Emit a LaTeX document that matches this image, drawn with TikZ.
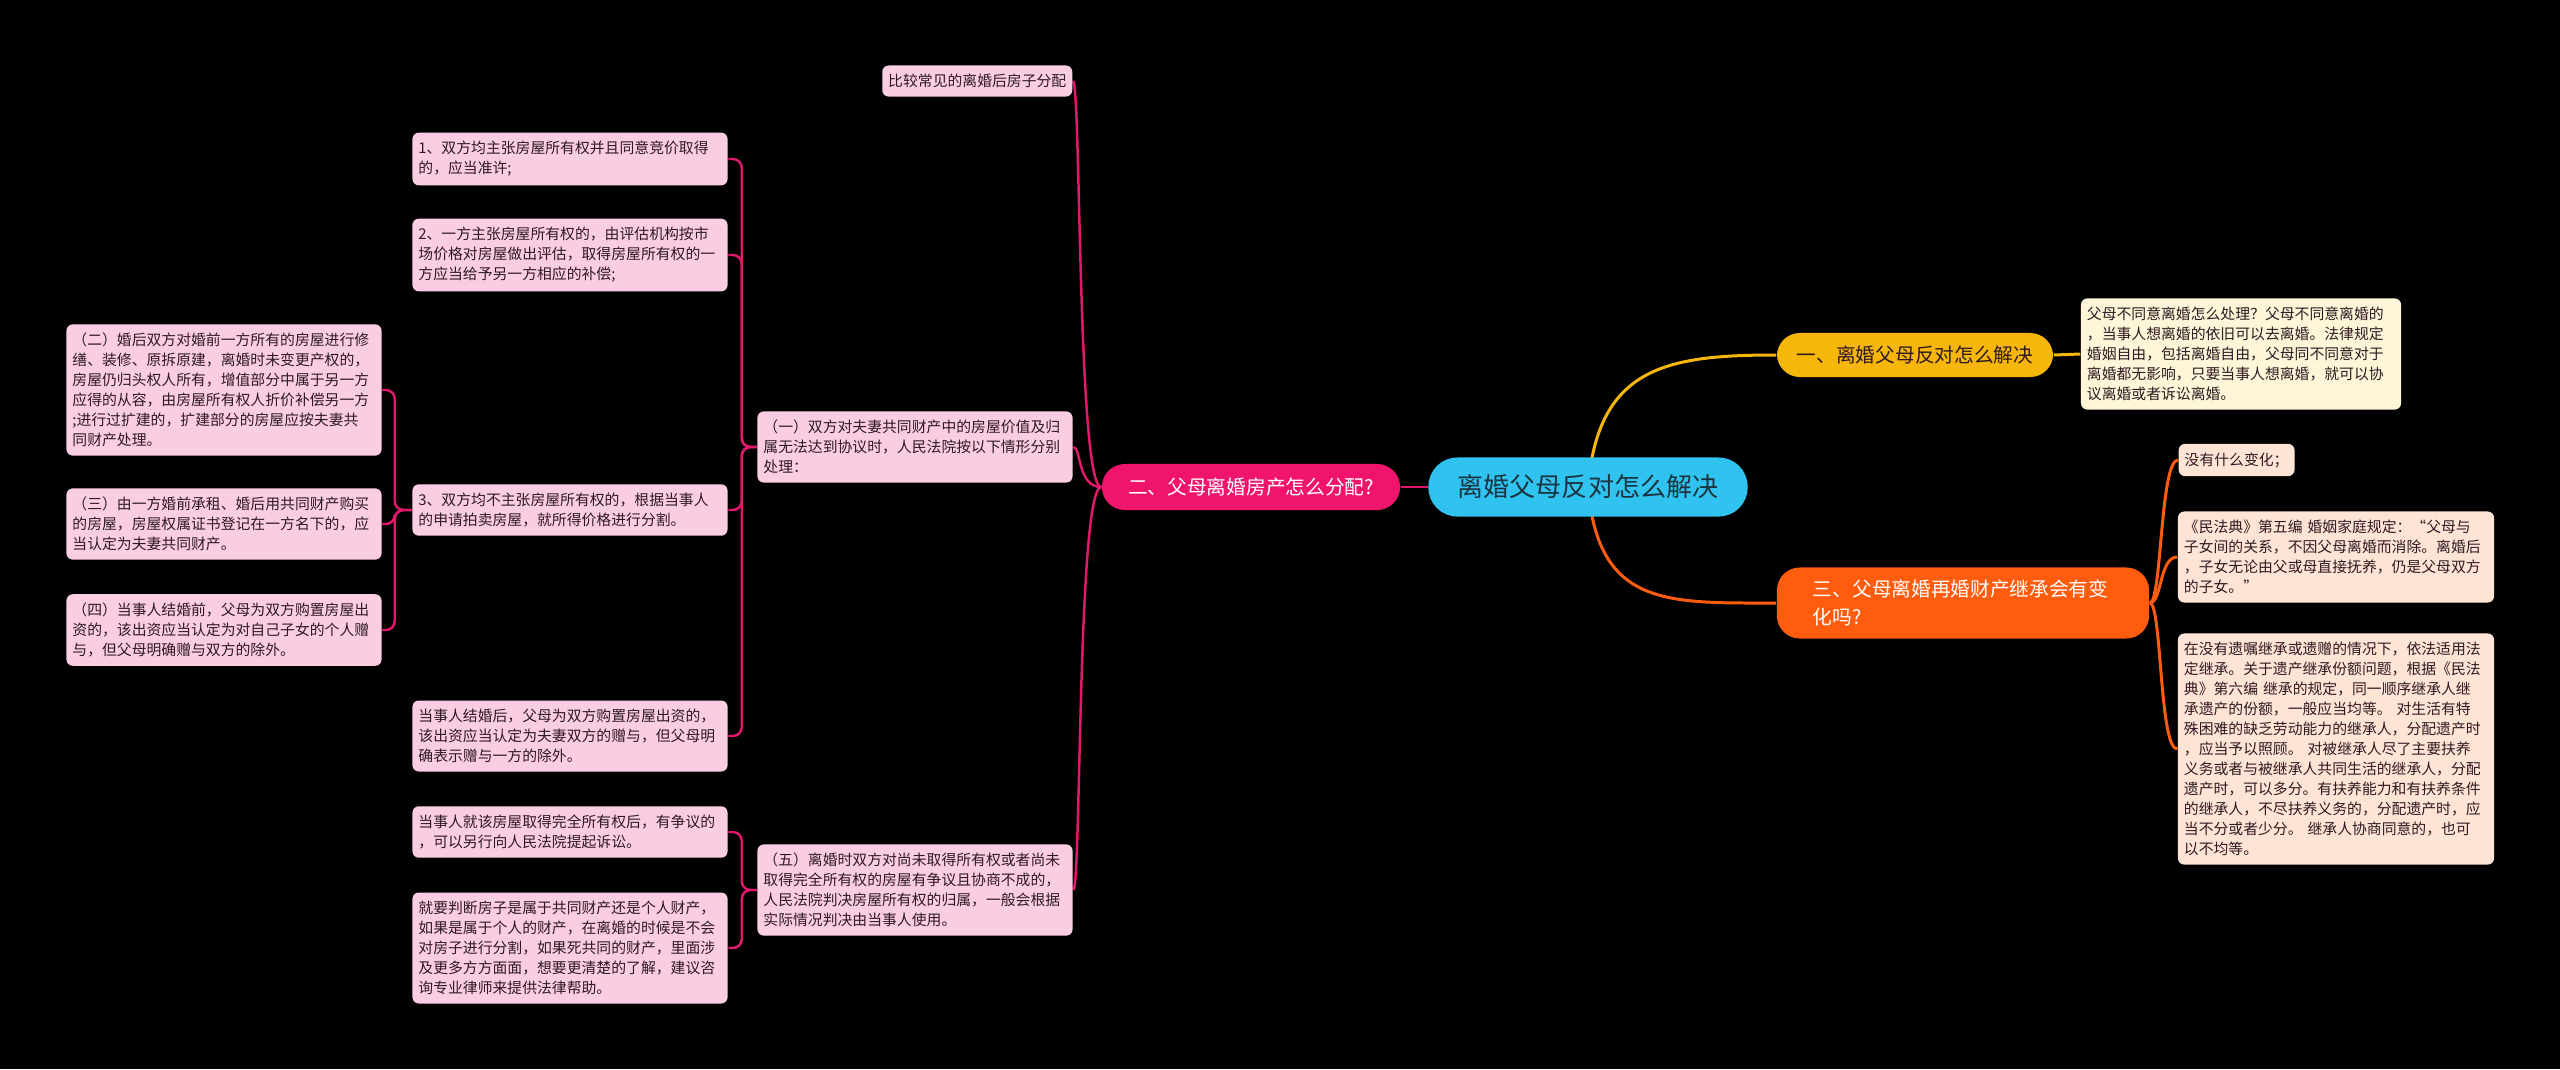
\documentclass[tikz,border=0pt]{standalone}
\usepackage{fontspec}
\setmainfont{Noto Sans CJK SC}
\usepackage{tikz}
\usetikzlibrary{arrows.meta}
\usepackage{xcolor}
\definecolor{rootfill}{HTML}{30C3F0}
\definecolor{roottext}{HTML}{1B3440}
\definecolor{pinkmain}{HTML}{F0146C}
\definecolor{pinkline}{HTML}{E0196C}
\definecolor{pinkfill}{HTML}{FBCDE2}
\definecolor{goldmain}{HTML}{F6B60A}
\definecolor{goldfill}{HTML}{FFF5D8}
\definecolor{orangemain}{HTML}{FF5C0E}
\definecolor{orangefill}{HTML}{FFE4D5}
\definecolor{leaftext}{HTML}{2E1A22}
\pgfdeclarelayer{bg}
\pgfsetlayers{bg,main}

\begin{document}
\begin{tikzpicture}[x=0.01cm,y=-0.01cm,line cap=round,
  leafbase/.style={rounded corners=1.8pt,inner xsep=1.7pt,inner ysep=2.45pt,align=left,text=leaftext,font=\fontsize{4.22}{5.69}\selectfont},
  pbox/.style={leafbase,fill=pinkfill,text width=3.03cm},
  ptag/.style={leafbase,fill=pinkfill},
  gbox/.style={leafbase,fill=goldfill,text width=3.08cm},
  obox/.style={leafbase,fill=orangefill,text width=3.04cm},
  otag/.style={leafbase,fill=orangefill},
  branch/.style={rounded corners=6.5pt,inner sep=0pt,font=\fontsize{5.6}{8}\selectfont},
  pline/.style={draw=pinkline,line width=0.7pt},
  gline/.style={draw=goldmain,line width=0.85pt},
  oline/.style={draw=orangemain,line width=0.85pt}]
\useasboundingbox (0,0) rectangle (2560,1069);

\node[rounded corners=8.2pt,fill=rootfill,text=roottext,minimum width=3.19cm,minimum height=0.59cm,font=\fontsize{7.4}{9}\selectfont] (root) at (1588,487) {离婚父母反对怎么解决};

\node[branch,fill=pinkmain,text=white,minimum width=2.98cm,minimum height=0.46cm] (b2) at (1251,487) {二、父母离婚房产怎么分配?};
\node[branch,fill=goldmain,text=leaftext,minimum width=2.76cm,minimum height=0.44cm] (b1) at (1915,355) {一、离婚父母反对怎么解决};
\node[branch,fill=orangemain,text=white,text width=3.0cm,align=left,inner xsep=0.36cm,inner ysep=3.5pt] (b3) at (1963,603) {三、父母离婚再婚财产继承会有变\\化吗?};

\node[gbox] (g1) at (2241,354) {父母不同意离婚怎么处理？父母不同意离婚的\\，当事人想离婚的依旧可以去离婚。法律规定\\婚姻自由，包括离婚自由，父母同不同意对于\\离婚都无影响，只要当事人想离婚，就可以协\\议离婚或者诉讼离婚。};

\node[otag,anchor=west] (o1) at (2178,460) {没有什么变化；};
\node[obox] (o2) at (2336,557) {《民法典》第五编 婚姻家庭规定：“父母与\\子女间的关系，不因父母离婚而消除。离婚后\\，子女无论由父或母直接抚养，仍是父母双方\\的子女。”};
\node[obox] (o3) at (2336,749) {在没有遗嘱继承或遗赠的情况下，依法适用法\\定继承。关于遗产继承份额问题，根据《民法\\典》第六编 继承的规定，同一顺序继承人继\\承遗产的份额，一般应当均等。 对生活有特\\殊困难的缺乏劳动能力的继承人，分配遗产时\\，应当予以照顾。 对被继承人尽了主要扶养\\义务或者与被继承人共同生活的继承人，分配\\遗产时，可以多分。有扶养能力和有扶养条件\\的继承人，不尽扶养义务的，分配遗产时，应\\当不分或者少分。 继承人协商同意的，也可\\以不均等。};

\node[ptag,anchor=east] (p0) at (1073,81) {比较常见的离婚后房子分配};
\node[pbox] (p1) at (915,447) {（一）双方对夫妻共同财产中的房屋价值及归\\属无法达到协议时，人民法院按以下情形分别\\处理：};
\node[pbox] (p5) at (915,890) {（五）离婚时双方对尚未取得所有权或者尚未\\取得完全所有权的房屋有争议且协商不成的，\\人民法院判决房屋所有权的归属，一般会根据\\实际情况判决由当事人使用。};

\node[pbox] (q1) at (570,159) {1、双方均主张房屋所有权并且同意竞价取得\\的，应当准许;};
\node[pbox] (q2) at (570,255) {2、一方主张房屋所有权的，由评估机构按市\\场价格对房屋做出评估，取得房屋所有权的一\\方应当给予另一方相应的补偿;};
\node[pbox] (q3) at (570,510) {3、双方均不主张房屋所有权的，根据当事人\\的申请拍卖房屋，就所得价格进行分割。};
\node[pbox] (q4) at (570,736) {当事人结婚后，父母为双方购置房屋出资的，\\该出资应当认定为夫妻双方的赠与，但父母明\\确表示赠与一方的除外。};

\node[pbox] (r2) at (224,390) {（二）婚后双方对婚前一方所有的房屋进行修\\缮、装修、原拆原建，离婚时未变更产权的，\\房屋仍归头权人所有，增值部分中属于另一方\\应得的从容，由房屋所有权人折价补偿另一方\\;进行过扩建的，扩建部分的房屋应按夫妻共\\同财产处理。};
\node[pbox] (r3) at (224,524) {（三）由一方婚前承租、婚后用共同财产购买\\的房屋，房屋权属证书登记在一方名下的，应\\当认定为夫妻共同财产。};
\node[pbox] (r4) at (224,630) {（四）当事人结婚前，父母为双方购置房屋出\\资的，该出资应当认定为对自己子女的个人赠\\与，但父母明确赠与双方的除外。};

\node[pbox] (s1) at (570,832) {当事人就该房屋取得完全所有权后，有争议的\\，可以另行向人民法院提起诉讼。};
\node[pbox] (s2) at (570,948) {就要判断房子是属于共同财产还是个人财产，\\如果是属于个人的财产，在离婚的时候是不会\\对房子进行分割，如果死共同的财产，里面涉\\及更多方方面面，想要更清楚的了解，建议咨\\询专业律师来提供法律帮助。};

\begin{pgfonlayer}{bg}
\fill[black] (0,0) rectangle (2560,1069);
\draw[pline] (root.west) -- (b2.east);
\draw[gline] (root.center) .. controls +(10,-120) and +(-110,0) .. (b1.west);
\draw[oline] (root.center) .. controls +(10,120) and +(-110,0) .. (b3.west);
\draw[gline] (b1.east) -- (g1.west);
\draw[oline] (b3.east) .. controls +(12,0) and +(-18,0) .. (o1.west);
\draw[oline] (b3.east) .. controls +(12,0) and +(-18,0) .. (o2.west);
\draw[oline] (b3.east) .. controls +(12,0) and +(-18,0) .. (o3.west);
\draw[pline] (b2.west) .. controls +(-24,0) and +(8,0) .. (p0.east);
\draw[pline] (b2.west) .. controls +(-24,0) and +(8,0) .. (p1.east);
\draw[pline] (b2.west) .. controls +(-24,0) and +(8,0) .. (p5.east);
\draw[pline,rounded corners=2.5pt] (p1.west) -- ++(-15,0) |- (q1.east);
\draw[pline,rounded corners=2.5pt] (p1.west) -- ++(-15,0) |- (q2.east);
\draw[pline,rounded corners=2.5pt] (p1.west) -- ++(-15,0) |- (q3.east);
\draw[pline,rounded corners=2.5pt] (p1.west) -- ++(-15,0) |- (q4.east);
\draw[pline,rounded corners=2.5pt] (q3.west) -- ++(-17,0) |- (r2.east);
\draw[pline,rounded corners=2.5pt] (q3.west) -- ++(-17,0) |- (r3.east);
\draw[pline,rounded corners=2.5pt] (q3.west) -- ++(-17,0) |- (r4.east);
\draw[pline,rounded corners=2.5pt] (p5.west) -- ++(-15,0) |- (s1.east);
\draw[pline,rounded corners=2.5pt] (p5.west) -- ++(-15,0) |- (s2.east);
\end{pgfonlayer}
\end{tikzpicture}
\end{document}
